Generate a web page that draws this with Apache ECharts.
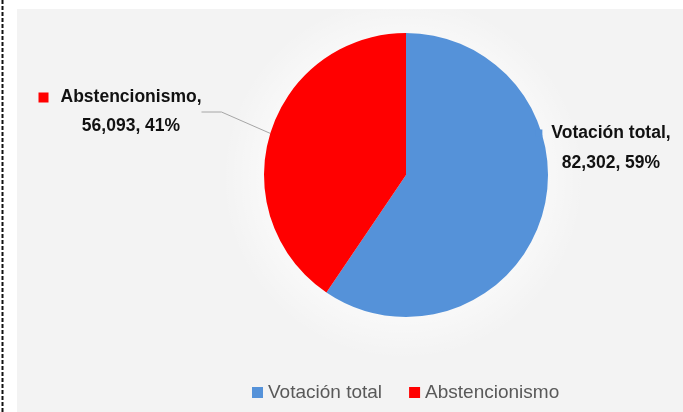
<!DOCTYPE html>
<html><head><meta charset="utf-8">
<script src="https://cdn.jsdelivr.net/npm/echarts@6/dist/echarts.min.js"></script>
<style>html,body{margin:0;padding:0;background:#fff}#c{width:683px;height:412px}</style>
</head><body><div id="c"></div>
<script>
const categories = ['Votación total', 'Abstencionismo'];
const values = [82302, 56093];
const percents = [59, 41];
const colors = ['#5592d9', '#ff0000'];

const chart = echarts.init(document.getElementById('c'));
const fmt = n => n.toLocaleString('en-US');
const labelPos = [
  {x: 603, y: 148},
  {x: 120, y: 112}
];
const FONT = 'Liberation Sans';
chart.setOption({
  backgroundColor: '#ffffff',
  animation: false,
  graphic: [
    {type: 'rect', shape: {x: 17, y: 9, width: 666, height: 403}, style: {fill: '#f3f3f3'}, z: -10},
    {type: 'rect', shape: {x: 17, y: 9, width: 666, height: 403}, style: {fill: {type: 'radial', x: 0.58, y: 0.42, r: 0.45, colorStops: [{offset: 0, color: 'rgba(255,255,255,1)'}, {offset: 0.6, color: 'rgba(255,255,255,0.8)'}, {offset: 1, color: 'rgba(255,255,255,0)'}]}}, z: -9},
    {type: 'line', shape: {x1: 2.5, y1: 0, x2: 2.5, y2: 412}, style: {stroke: '#111', lineWidth: 2, lineDash: [4, 2]}, z: 10}
  ],
  legend: {
    left: 247, top: 378,
    itemWidth: 11, itemHeight: 11, itemGap: 27,
    icon: 'rect',
    textStyle: {fontFamily: FONT, fontSize: 19, color: '#595959'},
    data: categories
  },
  series: [{
    type: 'pie',
    center: [406, 175],
    radius: 142,
    startAngle: 90,
    clockwise: true,
    color: colors,
    data: categories.map((c, i) => ({
      name: c, value: values[i],
      labelLine: {show: i === 1}
    })),
    label: {
      show: true,
      position: 'outside',
      overflow: 'none',
      formatter: p => '{m' + p.dataIndex + '|}{t' + p.dataIndex + '|' + p.name + ',}\n{s' + p.dataIndex + '|' + fmt(values[p.dataIndex]) + ', ' + percents[p.dataIndex] + '%}',
      align: 'center',
      lineHeight: 29,
      rich: {
        m0: {width: 7, height: 7, backgroundColor: colors[0]},
        m1: {width: 10, height: 10, backgroundColor: colors[1]},
        t0: {fontFamily: FONT, fontWeight: 'bold', fontSize: 17.5, color: '#111', padding: [0, 0, 0, 9], lineHeight: 30},
        t1: {fontFamily: FONT, fontWeight: 'bold', fontSize: 17.5, color: '#111', padding: [0, 0, 0, 12], lineHeight: 29},
        s0: {fontFamily: FONT, fontWeight: 'bold', fontSize: 17.5, color: '#111', padding: [0, 0, 0, 16], lineHeight: 30},
        s1: {fontFamily: FONT, fontWeight: 'bold', fontSize: 17.5, color: '#111', padding: [0, 0, 0, 22], lineHeight: 29}
      }
    },
    labelLine: {show: true, length: 10, length2: 20, lineStyle: {color: '#a6a6a6', width: 1}},
    labelLayout: p => ({x: labelPos[p.dataIndex].x, y: labelPos[p.dataIndex].y, align: 'center', verticalAlign: 'middle'}),
    emphasis: {disabled: true}
  }]
});
</script></body></html>
